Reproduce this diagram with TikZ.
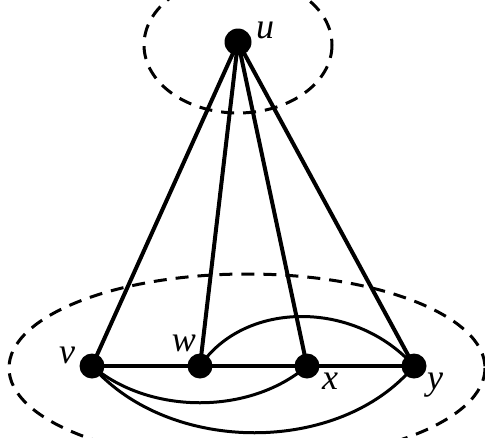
\documentclass[tikz,border=0pt]{standalone}
\usepackage{fontspec}
\setmainfont{Liberation Serif}
\begin{document}
\begin{tikzpicture}[x=1pt,y=-1pt,
  vtx/.style={circle,fill=black,inner sep=0pt,minimum size=25pt},
  edge/.style={line width=4pt},
  arc/.style={line width=3pt},
  ring/.style={line width=3pt,dash pattern=on 13pt off 9pt},
  lab/.style={font=\fontsize{36}{36}\selectfont,inner sep=0pt}]
\useasboundingbox (0,0) rectangle (485,437);
\clip (0,0) rectangle (485,437);
\draw[ring] (238,45) ellipse [x radius=94, y radius=68];
\draw[ring] (247,368) ellipse [x radius=238, y radius=94];
\node[vtx,minimum size=27pt] (u) at (238,42) {};
\node[vtx] (v) at (92,366) {};
\node[vtx] (w) at (200,366) {};
\node[vtx] (x) at (307,366) {};
\node[vtx] (y) at (414,366) {};
\draw[edge] (u.center) -- (v.center);
\draw[edge] (u.center) -- (w.center);
\draw[edge] (u.center) -- (x.center);
\draw[edge] (u.center) -- (y.center);
\draw[edge] (v.center) -- (w.center) -- (x.center) -- (y.center);
\draw[arc] (w.center) .. controls (245,300) and (355,300) .. (y.center);
\draw[arc] (v.center) .. controls (150,415) and (250,415) .. (x.center);
\draw[arc] (v.center) .. controls (170,455) and (340,455) .. (y.center);
\node[lab] (lu) at (265,30) {\textit{u}};
\node[lab] (lv) at (67,355) {\textit{v}};
\node[lab] (lw) at (184,343) {\textit{w}};
\node[lab] (lx) at (330,381) {\textit{x}};
\node[lab] (ly) at (435,385) {\textit{y}};
\end{tikzpicture}
\end{document}
